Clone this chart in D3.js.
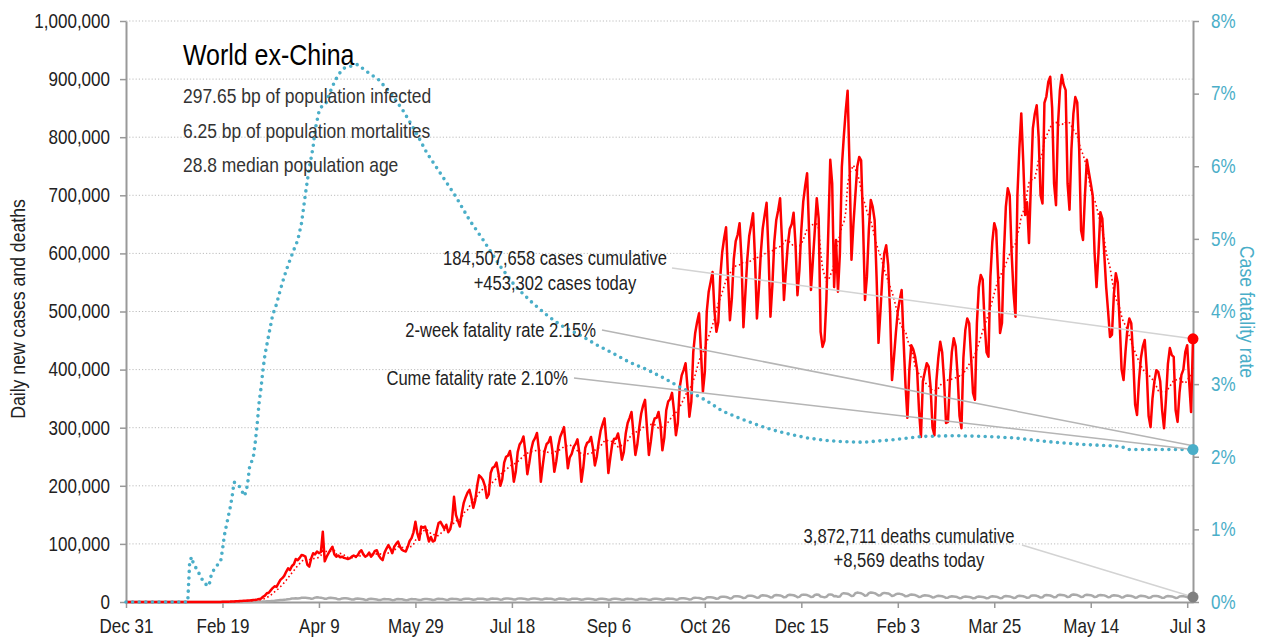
<!DOCTYPE html>
<html>
<head>
<meta charset="utf-8">
<script src="https://cdn.jsdelivr.net/npm/d3@7"></script>
<style>
  body { margin: 0; background: #fff; }
  svg text { font-family: "Liberation Sans", Arial, sans-serif; }
</style>
</head>
<body>
<svg id="chart" width="1265" height="642"></svg>
<script>
// day 0 = Dec 31, 2019
const startDate = new Date(2019, 11, 31);

// daily new cases, thousands (one week per row, Tue..Mon)
const dailyCases = [
  0,0,0,0,0,0,0,
  0,0,0,0,0,0,0,
  0,0,0,0,0,0,0,
  0,0,0,0,0,0,0,
  0,0,0,0,0,0,0,
  0.1,0.1,0.1,0.1,0.1,0.1,0.1,
  0.1,0.2,0.1,0.1,0.2,0.2,0.2,
  0.2,0.3,0.4,0.5,0.6,0.7,0.9,
  1.0,1.2,1.4,1.6,1.8,2.0,2.1,
  2.4,2.6,3.0,3.4,3.8,4.3,5.0,
  5.9,9,11,15,16,20,24,
  27,26,32,38,41,45,52,
  58,55,62,65,74,72,76,
  81,80,78,64,61,75,84,
  82,87,84,86,121,70,78,
  84,90,95,82,78,80,77,
  78,76,75,74,75,78,80,
  78,80,86,89,82,78,80,
  85,78,82,88,89,80,75,
  72,85,92,98,92,84,95,
  100,104,95,90,88,87,95,
  105,110,120,138,118,107,130,
  128,130,118,104,112,104,106,
  122,136,138,132,126,133,120,
  125,140,181,150,140,130,152,
  170,180,188,193,180,162,175,
  200,218,215,210,200,179,185,
  222,231,233,240,222,200,211,
  240,250,252,260,240,207,224,
  258,271,276,285,258,220,239,
  262,276,282,291,262,207,235,
  260,272,275,284,260,224,242,
  268,284,292,301,268,230,249,
  255,267,272,280,255,207,231,
  265,274,276,284,265,235,250,
  275,295,306,316,275,222,248,
  272,281,281,290,272,245,258,
  290,308,317,327,290,253,271,
  300,324,338,348,300,253,276,
  305,316,317,327,305,261,283,
  330,345,349,360,330,287,308,
  370,390,399,411,370,319,345,
  430,463,482,497,430,362,396,
  500,534,551,568,500,465,482,
  560,602,626,645,560,485,522,
  590,621,632,652,590,473,531,
  590,630,649,669,590,488,539,
  600,643,666,687,600,491,545,
  620,657,674,695,620,520,570,
  615,642,650,670,615,528,571,
  640,689,716,738,640,537,588,
  640,695,660,465,439,450,520,
  640,761,720,542,623,534,600,
  749,800,845,880,750,589,650,
  700,749,766,760,650,520,560,
  640,692,680,657,560,446,500,
  560,600,614,580,500,382,420,
  463,500,520,537,450,373,317,
  400,442,435,422,400,330,284,
  380,396,411,405,370,300,287,
  380,420,448,430,380,308,310,
  380,430,454,440,390,320,299,
  420,468,488,480,420,360,348,
  480,542,563,555,480,430,422,
  560,620,652,640,560,463,480,
  600,680,712,700,600,532,491,
  700,780,841,760,666,688,618,
  720,815,840,855,800,700,686,
  859,870,895,904,850,720,683,
  820,880,907,890,881,720,675,
  780,840,869,860,780,640,623,
  700,761,740,721,700,600,542,
  600,671,660,600,542,500,456,
  460,530,566,550,480,400,382,
  430,470,488,480,420,340,322,
  380,420,440,451,400,320,301,
  350,380,399,396,380,330,299,
  350,410,437,425,422,330,310,
  360,391,400,430,442,380,327,
  453
];

// daily new deaths, thousands
const dailyDeaths = [
  0,0,0,0,0,0,0,
  0,0,0,0,0,0,0,
  0,0,0,0,0,0,0,
  0,0,0,0,0,0,0,
  0,0,0,0,0,0,0,
  0,0,0,0,0,0,0,
  0,0,0,0,0,0,0,
  0,0,0,0,0,0.1,0.1,
  0.1,0.1,0.1,0.1,0.1,0.1,0.2,
  0.2,0.2,0.3,0.3,0.4,0.4,0.5,
  0.6,0.8,1.0,1.2,1.4,1.6,1.9,
  2.2,2.6,3.0,3.3,3.6,3.9,4.2,
  4.8,5.3,5.9,6.2,6.4,6.0,6.3,
  7.3,7.5,7.3,7.0,6.6,5.6,6.2,
  7.5,8.2,7.7,7.3,6.7,5.6,5.8,
  6.8,7.4,7.0,6.5,5.9,4.6,4.9,
  6.2,6.5,6.3,5.9,5.3,4.1,4.3,
  5.6,5.9,5.6,5.3,4.8,3.6,3.9,
  5.1,5.4,5.1,4.8,4.3,3.3,3.6,
  4.6,5.0,4.9,4.6,4.2,3.2,3.5,
  4.6,5.0,4.8,4.6,4.0,3.2,3.4,
  4.5,5.0,4.8,4.7,4.1,3.3,3.6,
  4.8,5.2,5.1,4.9,4.3,3.5,3.8,
  5.0,5.4,5.2,5.0,4.5,3.6,3.9,
  5.1,5.5,5.3,5.2,4.6,3.7,4.0,
  5.3,5.7,5.5,5.4,4.8,3.8,4.1,
  5.4,5.8,5.6,5.5,4.9,3.9,4.2,
  5.6,6.0,5.8,5.6,5.0,4.0,4.3,
  5.7,6.1,5.9,5.7,5.1,4.1,4.4,
  5.8,6.2,6.0,5.8,5.2,4.2,4.5,
  5.7,6.1,5.9,5.7,5.1,4.1,4.4,
  5.6,6.0,5.8,5.6,5.0,4.0,4.3,
  5.5,5.9,5.7,5.5,4.9,3.9,4.2,
  5.4,5.8,5.6,5.4,4.8,3.9,4.1,
  5.3,5.7,5.5,5.3,4.7,3.8,4.0,
  5.2,5.6,5.4,5.2,4.6,3.7,3.9,
  5.2,5.6,5.4,5.2,4.6,3.7,3.9,
  5.1,5.5,5.3,5.1,4.5,3.6,3.8,
  5.1,5.5,5.3,5.1,4.5,3.6,3.8,
  5.3,5.7,5.5,5.3,4.7,3.8,4.0,
  5.6,6.0,5.8,5.6,5.0,4.0,4.3,
  6.1,6.6,6.4,6.1,5.4,4.4,4.7,
  6.8,7.3,7.1,6.8,6.0,4.9,5.2,
  7.7,8.2,8.0,7.8,6.9,5.6,5.9,
  8.6,9.2,9.0,8.7,7.7,6.2,6.6,
  9.4,10.1,9.8,9.5,8.4,6.8,7.2,
  10.2,10.9,10.6,10.2,9.0,7.3,7.7,
  10.8,11.5,11.2,10.8,9.6,7.8,8.2,
  11.3,12.0,11.7,11.3,10.0,8.1,8.6,
  11.6,12.4,12.0,11.6,10.3,8.3,8.8,
  11.9,12.7,12.4,12.0,10.6,8.6,9.0,
  12.1,12.8,12.5,9.5,8.8,8.0,9.0,
  12.4,13.1,12.6,9.8,10.2,8.9,9.4,
  14.0,15.2,14.8,14.2,12.6,10.2,10.8,
  15.0,16.2,15.7,15.1,13.3,10.8,11.4,
  15.2,16.4,15.9,15.3,13.5,11.0,11.6,
  14.6,15.7,15.2,14.7,13.0,10.5,11.1,
  13.4,14.4,14.0,13.5,12.0,9.7,10.2,
  12.0,12.8,12.4,12.0,10.6,8.6,9.1,
  10.8,11.5,11.2,10.8,9.6,7.8,8.2,
  9.9,10.6,10.3,9.9,8.8,7.1,7.5,
  9.2,9.8,9.5,9.2,8.1,6.6,7.0,
  8.8,9.4,9.1,8.8,7.8,6.3,6.7,
  8.8,9.4,9.1,8.8,7.8,6.3,6.7,
  9.2,9.8,9.5,9.2,8.1,6.6,7.0,
  9.6,10.3,10.0,9.6,8.5,6.9,7.3,
  10.0,10.7,10.4,10.0,8.9,7.2,7.6,
  10.6,11.3,11.0,10.6,9.4,7.6,8.0,
  11.2,12.0,11.6,11.2,9.9,8.0,8.5,
  11.8,12.6,12.2,11.8,10.5,8.5,9.0,
  12.0,12.8,12.4,12.0,10.6,8.6,9.1,
  11.8,12.6,12.2,11.8,10.5,8.5,9.0,
  11.4,12.2,11.8,11.4,10.1,8.2,8.7,
  10.9,11.6,11.3,10.9,9.7,7.8,8.3,
  10.4,11.1,10.8,10.4,9.2,7.5,7.9,
  10.0,10.7,10.4,10.0,8.9,7.2,7.6,
  9.8,10.5,10.2,9.8,8.7,7.1,7.4,
  9.6,10.3,10.0,9.6,8.5,6.9,7.3,
  9.4,10.1,9.8,9.4,8.4,6.8,7.1,
  8.569
];

// cumulative case fatality rate, % (day, value)
const cfrDays = [0,32,33,34,35,37,39,41,43,44,45,47,49,50,51,52,54,55,56,58,60,61,62,63,64,66,67,68,69,70,71,72,74,76,78,80,82,84,87,89,91,92,93,94,95,96,97,98,100,102,104,105,107,110,113,117,120,125,131,138,144,151,156,163,171,178,185,194,202,211,219,226,235,244,252,261,270,279,287,294,301,309,318,327,335,344,353,361,370,382,396,413,430,445,460,477,495,511,516,519,530,545,553];
const cfrPct  = [0,0,0.55,0.62,0.52,0.44,0.33,0.25,0.22,0.35,0.42,0.5,0.55,0.72,0.92,1.05,1.3,1.45,1.65,1.62,1.54,1.46,1.5,1.62,1.85,2.0,2.2,2.45,2.75,2.95,3.2,3.4,3.68,3.95,4.1,4.3,4.48,4.64,4.85,4.98,5.22,5.42,5.62,5.8,5.98,6.12,6.27,6.5,6.75,6.85,6.88,6.97,7.1,7.26,7.35,7.38,7.4,7.3,7.19,6.98,6.75,6.43,6.18,5.9,5.58,5.26,4.99,4.62,4.34,4.11,3.93,3.8,3.68,3.54,3.43,3.3,3.2,3.08,2.96,2.87,2.77,2.63,2.53,2.44,2.37,2.31,2.26,2.23,2.21,2.2,2.23,2.28,2.29,2.28,2.26,2.21,2.17,2.15,2.14,2.1,2.1,2.1,2.1];

const tickDays = [0, 50, 100, 150, 200, 250, 300, 350, 400, 450, 500, 550];
const leftTicks = [0, 100, 200, 300, 400, 500, 600, 700, 800, 900, 1000];
const rightTicks = [0, 1, 2, 3, 4, 5, 6, 7, 8];

const titleText = "World ex-China";
const infoLines = [
  "297.65 bp of population infected",
  "6.25 bp of population mortalities",
  "28.8 median population age"
];
const casesNote = ["184,507,658 cases cumulative", "+453,302 cases today"];
const deathsNote = ["3,872,711 deaths cumulative", "+8,569 deaths today"];
const twoWeekRate = 2.15;
const cumeRate = 2.10;

const RED = "#ff0000", TEAL = "#4aaec8", GREY = "#aaaaaa", AXIS = "#999";
const NARROW = 0.86; // squeeze factor to mimic the condensed face

const day = i => d3.timeDay.offset(startDate, i);
const lastDay = dailyCases.length - 1;

const svg = d3.select("#chart");

const x = d3.scaleTime().domain([day(0), day(lastDay)]).range([126, 1193]);
const yL = d3.scaleLinear().domain([0, 1000]).range([602, 21]);
const yR = d3.scaleLinear().domain([0, 8]).range([602, 21]);

// gridlines
svg.append("g")
  .selectAll("line")
  .data(leftTicks.filter(d => d > 0))
  .join("line")
    .attr("x1", 126).attr("x2", 1193)
    .attr("y1", d => yL(d)).attr("y2", d => yL(d))
    .attr("stroke", "#bdbdbd")
    .attr("stroke-width", 1)
    .attr("stroke-dasharray", "1.2,2");

// axes
const fmt = d3.format(",");
const gLeft = svg.append("g")
  .attr("transform", "translate(126,0)")
  .call(d3.axisLeft(yL).tickValues(leftTicks).tickSize(6).tickSizeOuter(0).tickPadding(10)
    .tickFormat(d => fmt(d * 1000)));

const gRight = svg.append("g")
  .attr("transform", "translate(1193,0)")
  .call(d3.axisRight(yR).tickValues(rightTicks).tickSize(6).tickSizeOuter(0).tickPadding(12)
    .tickFormat(d => d + "%"));

const gBottom = svg.append("g")
  .attr("transform", "translate(0,602)")
  .call(d3.axisBottom(x).tickValues(tickDays.map(day)).tickSize(6).tickSizeOuter(0).tickPadding(11)
    .tickFormat(d3.timeFormat("%b %-d")));

[gLeft, gRight, gBottom].forEach(g => {
  g.select(".domain").attr("stroke", AXIS).attr("stroke-width", 2);
  g.selectAll(".tick line").attr("stroke", AXIS).attr("stroke-width", 1.5);
  g.selectAll("text")
    .style("font-family", '"Liberation Sans", Arial, sans-serif')
    .style("font-size", "19.8px")
    .attr("fill", "#222");
});
gRight.selectAll("text").attr("fill", TEAL);

// axis titles
svg.append("text")
  .attr("transform", "translate(25,309) rotate(-90)")
  .attr("text-anchor", "middle")
  .style("font-size", "20.5px")
  .attr("fill", "#222")
  .text("Daily new cases and deaths");

svg.append("text")
  .attr("transform", "translate(1240,312) rotate(90)")
  .attr("text-anchor", "middle")
  .style("font-size", "20.5px")
  .attr("fill", TEAL)
  .text("Case fatality rate");

// series
const idx = d3.range(dailyCases.length);

const lineL = (arr) => d3.line()
  .x(i => x(day(i)))
  .y(i => yL(arr[i]));

// deaths
svg.append("path")
  .attr("d", lineL(dailyDeaths)(idx))
  .attr("fill", "none")
  .attr("stroke", GREY)
  .attr("stroke-width", 2.5)
  .attr("stroke-linejoin", "round");

// daily cases
svg.append("path")
  .attr("d", lineL(dailyCases)(idx))
  .attr("fill", "none")
  .attr("stroke", RED)
  .attr("stroke-width", 2.5)
  .attr("stroke-linejoin", "round");

// 7-day average of cases
const avg7 = idx.slice(6).map(i => [i, d3.mean(dailyCases.slice(i - 6, i + 1))]);
svg.append("path")
  .attr("d", d3.line().x(d => x(day(d[0]))).y(d => yL(d[1]))(avg7))
  .attr("fill", "none")
  .attr("stroke", RED)
  .attr("stroke-width", 1.6)
  .attr("stroke-dasharray", "1.6,2.6");

// case fatality rate
svg.append("path")
  .attr("d", d3.line().x(d => x(day(d))).y((d, i) => yR(cfrPct[i]))(cfrDays))
  .attr("fill", "none")
  .attr("stroke", TEAL)
  .attr("stroke-width", 3.6)
  .attr("stroke-linecap", "round")
  .attr("stroke-dasharray", "0,6.6");

// text block
svg.append("text")
  .attr("x", 183).attr("y", 65)
  .style("font-size", "29px")
  .attr("fill", "#000")
  .text(titleText);

svg.append("g")
  .selectAll("text")
  .data(infoLines)
  .join("text")
    .attr("x", 183)
    .attr("y", (d, i) => 103 + i * 34.5)
    .style("font-size", "20.3px")
    .attr("fill", "#333")
    .text(d => d);

// annotations
const xEnd = x(day(lastDay));
const endCase = dailyCases[lastDay];
const endDeath = dailyDeaths[lastDay];

const leader = (x1, y1, x2, y2, color) => svg.append("line")
  .attr("x1", x1).attr("y1", y1).attr("x2", x2).attr("y2", y2)
  .attr("stroke", color).attr("stroke-width", 1.5);

leader(672, 268, xEnd, yL(endCase), "#d3d3d3");
leader(602, 330, xEnd, yR(twoWeekRate), "#b5b5b5");
leader(574, 378, xEnd, yR(cumeRate), "#b5b5b5");
leader(1022, 545, xEnd, yL(endDeath), "#d3d3d3");

svg.append("g")
  .selectAll("text")
  .data(casesNote)
  .join("text")
    .attr("x", 555)
    .attr("y", (d, i) => 265 + i * 25)
    .attr("text-anchor", "middle")
    .style("font-size", "19.3px")
    .attr("fill", "#222")
    .text(d => d);

svg.append("text")
  .attr("x", 596).attr("y", 337)
  .attr("text-anchor", "end")
  .style("font-size", "19.3px")
  .attr("fill", "#222")
  .text("2-week fatality rate " + twoWeekRate.toFixed(2) + "%");

svg.append("text")
  .attr("x", 568).attr("y", 385)
  .attr("text-anchor", "end")
  .style("font-size", "19.3px")
  .attr("fill", "#222")
  .text("Cume fatality rate " + cumeRate.toFixed(2) + "%");

svg.append("g")
  .selectAll("text")
  .data(deathsNote)
  .join("text")
    .attr("x", 909)
    .attr("y", (d, i) => 543 + i * 24)
    .attr("text-anchor", "middle")
    .style("font-size", "19.3px")
    .attr("fill", "#222")
    .text(d => d);

// end markers
svg.append("circle").attr("cx", xEnd).attr("cy", yL(endCase)).attr("r", 5.5).attr("fill", RED);
svg.append("circle").attr("cx", xEnd).attr("cy", yR(cumeRate)).attr("r", 5.5).attr("fill", TEAL);
svg.append("circle").attr("cx", xEnd).attr("cy", yL(endDeath)).attr("r", 5.5).attr("fill", "#808080");

// squeeze all labels horizontally (no condensed face installed)
svg.selectAll("text").each(function () {
  const len = this.getComputedTextLength();
  d3.select(this)
    .attr("textLength", len * NARROW)
    .attr("lengthAdjust", "spacingAndGlyphs");
});
</script>
</body>
</html>
